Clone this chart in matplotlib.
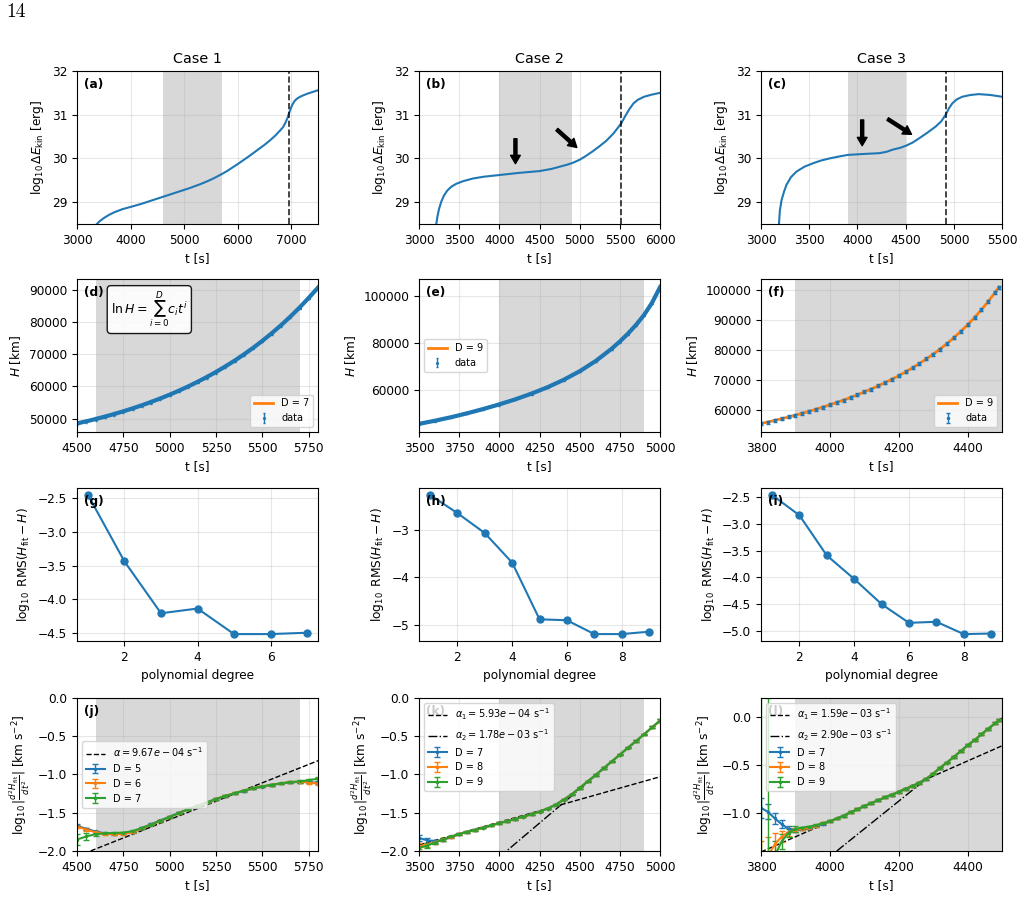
import numpy as np
import matplotlib.pyplot as plt

plt.rcParams['font.size'] = 8.7
plt.rcParams['axes.titlesize'] = 10.4
plt.rcParams['legend.fontsize'] = 7

# --- Row 1: log10 kinetic energy vs time ---
t_a = [3372, 3420, 3500, 3600, 3700, 3850, 4000, 4200, 4400, 4600, 4800, 5000, 5100, 5200, 5300,
       5400, 5500, 5600, 5700, 5800, 5900, 6000, 6100, 6200, 6300, 6400, 6500, 6600, 6700, 6800,
       6850, 6900, 6930, 6960, 6990, 7020, 7060, 7100, 7150, 7200, 7300, 7400, 7500]
E_a = [28.5, 28.56, 28.635, 28.71, 28.77, 28.84, 28.89, 28.96, 29.04, 29.12, 29.2, 29.28, 29.32,
       29.365, 29.41, 29.46, 29.515, 29.575, 29.64, 29.71, 29.79, 29.87, 29.955, 30.04, 30.13, 30.22,
       30.31, 30.41, 30.52, 30.65, 30.72, 30.84, 30.93, 31.04, 31.14, 31.23, 31.31, 31.36, 31.4,
       31.43, 31.48, 31.52, 31.56]
t_b = [3215, 3230, 3250, 3275, 3310, 3350, 3400, 3464, 3550, 3671, 3800, 4000, 4250, 4500, 4650,
       4750, 4850, 4915, 5000, 5080, 5160, 5240, 5329, 5420, 5516, 5570, 5619, 5670, 5723, 5800,
       5900, 6000]
E_b = [28.5, 28.68, 28.85, 29.0, 29.15, 29.26, 29.35, 29.42, 29.48, 29.54, 29.58, 29.62, 29.67,
       29.71, 29.76, 29.81, 29.86, 29.9, 29.97, 30.06, 30.16, 30.27, 30.4, 30.57, 30.8, 30.98,
       31.13, 31.26, 31.34, 31.41, 31.46, 31.5]
t_c = [3186, 3195, 3213, 3240, 3265, 3310, 3368, 3450, 3540, 3620, 3712, 3800, 3901, 4050, 4228,
       4300, 4365, 4440, 4503, 4570, 4640, 4720, 4812, 4870, 4915, 4950, 4984, 5030, 5087, 5170,
       5259, 5380, 5500]
E_c = [28.5, 28.8, 29.05, 29.25, 29.4, 29.57, 29.7, 29.81, 29.89, 29.95, 30.0, 30.04, 30.08, 30.1,
       30.12, 30.15, 30.2, 30.24, 30.29, 30.36, 30.46, 30.58, 30.73, 30.85, 31.0, 31.15, 31.26,
       31.35, 31.41, 31.45, 31.47, 31.45, 31.41]
t_peak = [6955, 5515, 4920]
windows = [(4600, 5700), (4000, 4900), (3900, 4500)]

# --- Row 2: H(t) data and fits ---
t_d = [4500, 4550, 4600, 4650, 4700, 4750, 4800, 4850, 4900, 4950, 5000, 5050, 5100, 5150, 5200,
       5250, 5300, 5350, 5400, 5450, 5500, 5550, 5600, 5650, 5700, 5750, 5800]
H_d = [48460, 49120, 49832, 50588, 51394, 52252, 53166, 54141, 55177, 56280, 57454, 58703, 60033,
       61447, 62952, 64554, 66260, 68077, 70012, 72074, 74272, 76616, 79116, 81785, 84636, 87682,
       90900]
t_e = [3500, 3600, 3700, 3800, 3900, 4000, 4100, 4200, 4300, 4400, 4500, 4600, 4700, 4750, 4800,
       4850, 4900, 4950, 5000]
H_e = [45707, 47053, 48533, 50187, 52000, 53960, 56106, 58513, 61207, 64344, 67983, 72330, 77575,
       80579, 83867, 87553, 91766, 96953, 103572]
t_f = [3800, 3820, 3840, 3860, 3880, 3900, 3920, 3940, 3960, 3980, 4000, 4020, 4040, 4060, 4080,
       4100, 4120, 4140, 4160, 4180, 4200, 4220, 4240, 4260, 4280, 4300, 4320, 4340, 4360, 4380,
       4400, 4420, 4440, 4460, 4480, 4490]
H_f = [55581, 56095, 56630, 57188, 57768, 58372, 59007, 59665, 60355, 61078, 61827, 62611, 63431,
       64286, 65180, 66112, 67091, 68118, 69203, 70347, 71546, 72816, 74161, 75591, 77111, 78716,
       80426, 82256, 84212, 86300, 88529, 90925, 93516, 96316, 99339, 100951]
H_err = 500
fit_deg = [7, 9, 9]

# --- Row 3: RMS vs polynomial degree ---
deg_g = [1, 2, 3, 4, 5, 6, 7]
rms_g = [-2.45, -3.44, -4.21, -4.14, -4.52, -4.52, -4.50]
deg_h = [1, 2, 3, 4, 5, 6, 7, 8, 9]
rms_h = [-2.27, -2.65, -3.07, -3.69, -4.88, -4.90, -5.19, -5.19, -5.14]
deg_i = [1, 2, 3, 4, 5, 6, 7, 8, 9]
rms_i = [-2.46, -2.84, -3.59, -4.03, -4.50, -4.85, -4.83, -5.06, -5.05]

# --- Row 4: log10 |d2H/dt2| ---
t_j = [4500, 4550, 4600, 4650, 4700, 4750, 4800, 4850, 4900, 4950, 5000, 5050, 5100, 5150, 5200,
       5250, 5300, 5350, 5400, 5450, 5500, 5550, 5600, 5650, 5700, 5750, 5800]
y_j5 = [-1.67, -1.71, -1.745, -1.77, -1.775, -1.77, -1.75, -1.70, -1.65, -1.60, -1.55, -1.50, -1.452,
        -1.408, -1.365, -1.322, -1.283, -1.248, -1.213, -1.183, -1.158, -1.137, -1.118, -1.104,
        -1.097, -1.10, -1.11]
y_j6 = [-1.68, -1.72, -1.755, -1.775, -1.78, -1.775, -1.755, -1.705, -1.655, -1.605, -1.555, -1.505,
        -1.455, -1.41, -1.365, -1.32, -1.28, -1.245, -1.21, -1.18, -1.155, -1.135, -1.115, -1.10,
        -1.095, -1.105, -1.12]
y_j7 = [-1.85, -1.81, -1.78, -1.77, -1.765, -1.76, -1.74, -1.70, -1.655, -1.605, -1.555, -1.505,
        -1.455, -1.41, -1.365, -1.32, -1.28, -1.245, -1.21, -1.18, -1.155, -1.135, -1.115, -1.10,
        -1.09, -1.075, -1.055]
e_j5 = [0.02, 0.015, 0.012, 0.01, 0.01, 0.01, 0.01, 0.01, 0.01, 0.01, 0.01, 0.01, 0.01, 0.01, 0.01,
        0.01, 0.01, 0.01, 0.01, 0.01, 0.01, 0.01, 0.01, 0.01, 0.012, 0.015, 0.02]
e_j6 = e_j5
e_j7 = [0.07, 0.04, 0.02, 0.012, 0.01, 0.01, 0.01, 0.01, 0.01, 0.01, 0.01, 0.01, 0.01, 0.01, 0.01,
        0.01, 0.01, 0.01, 0.01, 0.01, 0.01, 0.01, 0.01, 0.012, 0.015, 0.02, 0.025]
line_j_t = [4500, 5800]
line_j_y = [-2.07, -0.82]
alpha_j = '9.67e-04'

t_k = [3500, 3550, 3600, 3650, 3700, 3750, 3800, 3850, 3900, 3950, 4000, 4050, 4100, 4150, 4200,
       4250, 4300, 4350, 4400, 4450, 4500, 4550, 4600, 4650, 4700, 4750, 4800, 4850, 4900, 4950, 5000]
y_k7 = [-1.83, -1.86, -1.87, -1.855, -1.82, -1.78, -1.75, -1.725, -1.695, -1.665, -1.635, -1.61,
        -1.58, -1.55, -1.52, -1.485, -1.445, -1.395, -1.33, -1.26, -1.175, -1.09, -1.005, -0.915,
        -0.83, -0.74, -0.65, -0.565, -0.475, -0.385, -0.295]
y_k8 = [-1.94, -1.92, -1.885, -1.85, -1.815, -1.78, -1.75, -1.725, -1.695, -1.665, -1.635, -1.61,
        -1.58, -1.55, -1.52, -1.485, -1.445, -1.395, -1.33, -1.26, -1.175, -1.09, -1.005, -0.915,
        -0.83, -0.74, -0.65, -0.565, -0.475, -0.385, -0.295]
y_k9 = [-1.96, -1.93, -1.89, -1.85, -1.81, -1.78, -1.75, -1.725, -1.695, -1.665, -1.635, -1.61,
        -1.58, -1.55, -1.52, -1.485, -1.445, -1.395, -1.33, -1.26, -1.175, -1.09, -1.005, -0.915,
        -0.83, -0.74, -0.65, -0.565, -0.475, -0.385, -0.295]
e_k = [0.04, 0.03, 0.02, 0.015, 0.012, 0.01, 0.01, 0.01, 0.01, 0.01, 0.01, 0.01, 0.01, 0.01, 0.01,
       0.01, 0.01, 0.01, 0.01, 0.01, 0.01, 0.01, 0.01, 0.01, 0.01, 0.01, 0.01, 0.01, 0.01, 0.012, 0.015]
line_k1_t = [3500, 5000]
line_k1_y = [-1.92, -1.03]
line_k2_t = [4000, 5000]
line_k2_y = [-2.08, -0.30]
alpha_k = ['5.93e-04', '1.78e-03']

t_l = [3800, 3820, 3840, 3860, 3880, 3900, 3920, 3940, 3960, 3980, 4000, 4020, 4040, 4060, 4080,
       4100, 4120, 4140, 4160, 4180, 4200, 4220, 4240, 4260, 4280, 4300, 4320, 4340, 4360, 4380,
       4400, 4420, 4440, 4460, 4480, 4490]
y_l7 = [-0.95, -0.99, -1.06, -1.12, -1.17, -1.185, -1.175, -1.16, -1.14, -1.115, -1.09, -1.06, -1.03,
        -0.995, -0.965, -0.93, -0.90, -0.87, -0.84, -0.81, -0.78, -0.75, -0.72, -0.685, -0.645,
        -0.59, -0.53, -0.475, -0.415, -0.355, -0.295, -0.24, -0.18, -0.12, -0.065, -0.035]
y_l8 = [-1.6, -1.45, -1.33, -1.25, -1.2, -1.18, -1.17, -1.155, -1.135, -1.11, -1.09, -1.06, -1.03,
        -0.995, -0.965, -0.93, -0.90, -0.87, -0.84, -0.81, -0.78, -0.75, -0.72, -0.685, -0.645,
        -0.59, -0.53, -0.475, -0.415, -0.355, -0.295, -0.24, -0.18, -0.12, -0.065, -0.035]
y_l9 = [-2.0, -1.8, -1.45, -1.3, -1.21, -1.17, -1.155, -1.145, -1.13, -1.11, -1.09, -1.06, -1.03,
        -0.995, -0.965, -0.93, -0.90, -0.87, -0.84, -0.81, -0.78, -0.75, -0.72, -0.685, -0.645,
        -0.59, -0.53, -0.475, -0.415, -0.355, -0.295, -0.24, -0.18, -0.12, -0.065, -0.035]
e_l7 = [0.1, 0.08, 0.06, 0.04, 0.03, 0.02] + [0.01] * 30
e_l8 = [0.3, 0.2, 0.12, 0.06, 0.04, 0.02] + [0.01] * 30
e_l9 = [3.0, 2.0, 0.15, 0.08, 0.04, 0.03] + [0.01] * 30
line_l1_t = [3800, 4500]
line_l1_y = [-1.41, -0.30]
line_l2_t = [4020, 4500]
line_l2_y = [-1.40, -0.01]
alpha_l = ['1.59e-03', '2.90e-03']

# --- layout ---
fig = plt.figure(figsize=(10.24, 9.18), dpi=100)
lefts = [0.0752, 0.4092, 0.7432]
bottoms = [0.756, 0.5294, 0.3017, 0.073]
w, h = 0.2354, 0.1667
axs = [[fig.add_axes([l, b, w, h]) for l in lefts] for b in bottoms]

fig.text(0.006, 0.997, '14', fontfamily='cmr10', fontsize=14, va='top', ha='left')

letters = 'abcdefghijkl'
for r in range(4):
    for c in range(3):
        ax = axs[r][c]
        ax.grid(True, alpha=0.3)
        ax.text(0.03, 0.955, '(%s)' % letters[3 * r + c], transform=ax.transAxes,
                fontweight='bold', va='top', ha='left', zorder=3)

# row 1
E_t = [t_a, t_b, t_c]
E_v = [E_a, E_b, E_c]
xlims1 = [(3000, 7500), (3000, 6000), (3000, 5500)]
xticks1 = [range(3000, 7001, 1000), range(3000, 6001, 500), range(3000, 5501, 500)]
for c in range(3):
    ax = axs[0][c]
    ax.axvspan(*windows[c], color='gray', alpha=0.3, lw=0)
    ax.plot(E_t[c], E_v[c], color='C0', lw=1.5)
    ax.axvline(t_peak[c], color='k', ls='--', lw=1.2, alpha=0.85)
    ax.set_xlim(*xlims1[c])
    ax.set_ylim(28.5, 32)
    ax.set_xticks(list(xticks1[c]))
    ax.set_yticks([29, 30, 31, 32])
    ax.set_xlabel('t [s]')
    ax.set_ylabel(r'$\log_{10}\Delta E_{\rm kin}$ [erg]')
    ax.set_title('Case %d' % (c + 1))

arrow_kw = dict(facecolor='black', edgecolor='black', width=2.2, headwidth=7, headlength=6, shrink=0)
arrows = {1: [((4200, 29.88), (4200, 30.45)), ((4964, 30.25), (4716, 30.66))],
          2: [((4049, 30.29), (4049, 30.88)), ((4561, 30.55), (4314, 30.9))]}
for c, arr in arrows.items():
    for head, tail in arr:
        axs[0][c].annotate('', xy=head, xytext=tail, arrowprops=arrow_kw)

# row 2
H_t = [t_d, t_e, t_f]
H_v = [H_d, H_e, H_f]
xlims2 = [(4500, 5800), (3500, 5000), (3800, 4500)]
xticks2 = [range(4500, 5751, 250), range(3500, 5001, 250), range(3800, 4401, 200)]
yticks2 = [range(50000, 90001, 10000), range(60000, 100001, 20000), range(60000, 100001, 10000)]
leg_loc2 = ['lower right', 'center left', 'lower right']
for c in range(3):
    ax = axs[1][c]
    ax.axvspan(*windows[c], color='gray', alpha=0.3, lw=0)
    ax.plot(H_t[c], H_v[c], color='C1', lw=2, label='D = %d' % fit_deg[c])
    if c < 2:
        ax.plot(H_t[c], H_v[c], color='C0', lw=3)
        ax.errorbar(H_t[c], H_v[c], yerr=H_err, fmt='.', color='C0', ms=2.5, capsize=1,
                    elinewidth=1, label='data')
    else:
        ax.errorbar(H_t[c], H_v[c], yerr=H_err, fmt='.', color='C0', ms=3, capsize=1.5,
                    elinewidth=1, label='data')
    ax.set_xlim(*xlims2[c])
    ax.set_xticks(list(xticks2[c]))
    ax.set_yticks(list(yticks2[c]))
    ax.set_xlabel('t [s]')
    ax.set_ylabel(r'$H$ [km]')
    ax.legend(loc=leg_loc2[c])
axs[1][0].text(0.30, 0.80, r'$\ln H = \sum_{i=0}^{D} c_i t^i$', transform=axs[1][0].transAxes,
               ha='center', va='center', fontsize=9,
               bbox=dict(boxstyle='round', fc='white', ec='black', alpha=0.9))

# row 3
degs = [deg_g, deg_h, deg_i]
rmss = [rms_g, rms_h, rms_i]
xticks3 = [[2, 4, 6], [2, 4, 6, 8], [2, 4, 6, 8]]
yticks3 = [[-2.5, -3.0, -3.5, -4.0, -4.5], [-3, -4, -5], [-2.5, -3.0, -3.5, -4.0, -4.5, -5.0]]
for c in range(3):
    ax = axs[2][c]
    ax.plot(degs[c], rmss[c], 'o-', color='C0', ms=5, lw=1.5)
    ax.set_xticks(xticks3[c])
    ax.set_yticks(yticks3[c])
    ax.set_xlabel('polynomial degree')
    ax.set_ylabel(r'$\log_{10}$ RMS$(H_{\rm fit}-H)$')

# row 4
ylab4 = r'$\log_{10}|\frac{d^2H_{\rm fit}}{dt^2}|$ [km s$^{-2}$]'
eb_kw = dict(marker='.', ms=3, lw=1.5, capsize=2, elinewidth=1)

ax = axs[3][0]
ax.axvspan(*windows[0], color='gray', alpha=0.3, lw=0)
ax.plot(line_j_t, line_j_y, 'k--', lw=1, label=r'$\alpha = %s$ s$^{-1}$' % alpha_j)
ax.errorbar(t_j, y_j5, yerr=e_j5, color='C0', label='D = 5', **eb_kw)
ax.errorbar(t_j, y_j6, yerr=e_j6, color='C1', label='D = 6', **eb_kw)
ax.errorbar(t_j, y_j7, yerr=e_j7, color='C2', label='D = 7', **eb_kw)
ax.set_ylim(-2.0, 0.0)
ax.legend(loc='center left')

ax = axs[3][1]
ax.axvspan(*windows[1], color='gray', alpha=0.3, lw=0)
ax.plot(line_k1_t, line_k1_y, 'k--', lw=1, label=r'$\alpha_1 = %s$ s$^{-1}$' % alpha_k[0])
ax.plot(line_k2_t, line_k2_y, 'k-.', lw=1, label=r'$\alpha_2 = %s$ s$^{-1}$' % alpha_k[1])
ax.errorbar(t_k, y_k7, yerr=e_k, color='C0', label='D = 7', **eb_kw)
ax.errorbar(t_k, y_k8, yerr=e_k, color='C1', label='D = 8', **eb_kw)
ax.errorbar(t_k, y_k9, yerr=e_k, color='C2', label='D = 9', **eb_kw)
ax.set_ylim(-2.0, 0.0)
ax.legend(loc='upper left')

ax = axs[3][2]
ax.axvspan(*windows[2], color='gray', alpha=0.3, lw=0)
ax.plot(line_l1_t, line_l1_y, 'k--', lw=1, label=r'$\alpha_1 = %s$ s$^{-1}$' % alpha_l[0])
ax.plot(line_l2_t, line_l2_y, 'k-.', lw=1, label=r'$\alpha_2 = %s$ s$^{-1}$' % alpha_l[1])
ax.errorbar(t_l, y_l7, yerr=e_l7, color='C0', label='D = 7', **eb_kw)
ax.errorbar(t_l, y_l8, yerr=e_l8, color='C1', label='D = 8', **eb_kw)
ax.errorbar(t_l, y_l9, yerr=e_l9, color='C2', label='D = 9', **eb_kw)
ax.set_ylim(-1.4, 0.2)
ax.set_yticks([0.0, -0.5, -1.0])
ax.legend(loc='upper left')

for c in range(3):
    ax = axs[3][c]
    ax.set_xlim(*xlims2[c])
    ax.set_xticks(list(xticks2[c]))
    ax.set_xlabel('t [s]')
    ax.set_ylabel(ylab4)
    if c < 2:
        ax.set_yticks([0.0, -0.5, -1.0, -1.5, -2.0])

fig.savefig('out.png', dpi=100)
